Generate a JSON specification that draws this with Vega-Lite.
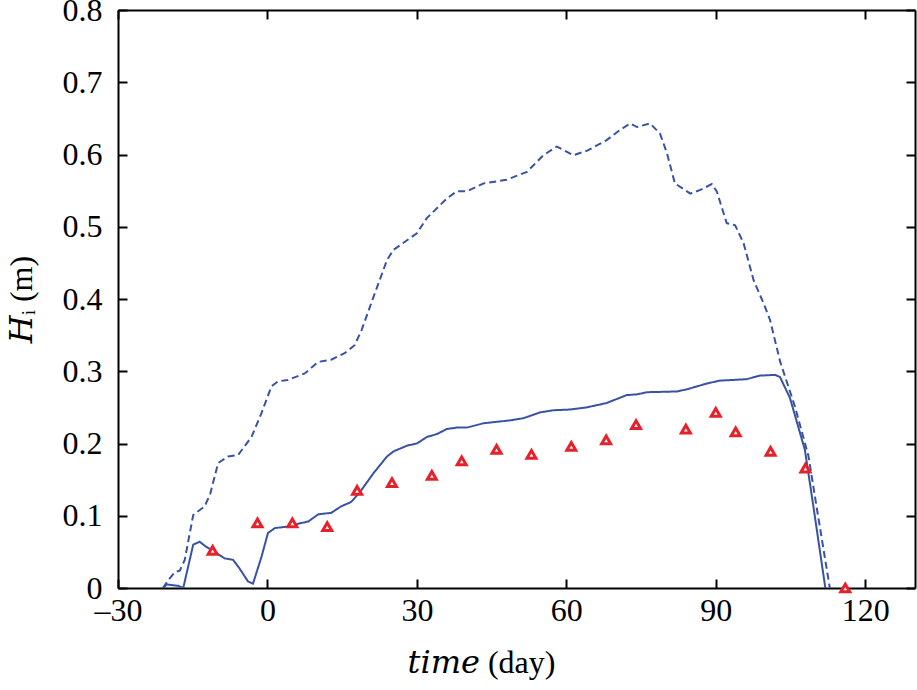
{
  "$schema": "https://vega.github.io/schema/vega-lite/v6.json",
  "width": 797,
  "height": 578,
  "autosize": "none",
  "padding": {"left": 118, "top": 10, "right": 2, "bottom": 102},
  "background": "white",
  "config": {
    "view": {"stroke": null},
    "font": "Liberation Serif",
    "axis": {
      "domainColor": "black",
      "domainWidth": 2,
      "tickColor": "black",
      "tickWidth": 2,
      "tickSize": -9,
      "grid": false,
      "labelFont": "Liberation Serif",
      "labelFontSize": 32,
      "labelColor": "black",
      "titleFont": "'Liberation Serif', 'DejaVu Serif', serif",
      "titleFontSize": 32,
      "titleFontWeight": "normal",
      "titleColor": "black",
      "labelFlush": false,
      "labelOverlap": false
    }
  },
  "datasets": {
    "model": [
      {"run": "dashed", "t": -21.0, "h": 0.0},
      {"run": "dashed", "t": -19.9, "h": 0.011},
      {"run": "dashed", "t": -18.6, "h": 0.022},
      {"run": "dashed", "t": -17.6, "h": 0.024},
      {"run": "dashed", "t": -16.6, "h": 0.039},
      {"run": "dashed", "t": -14.9, "h": 0.101},
      {"run": "dashed", "t": -12.6, "h": 0.113},
      {"run": "dashed", "t": -11.5, "h": 0.130},
      {"run": "dashed", "t": -9.9, "h": 0.173},
      {"run": "dashed", "t": -7.9, "h": 0.182},
      {"run": "dashed", "t": -5.9, "h": 0.184},
      {"run": "dashed", "t": -3.2, "h": 0.209},
      {"run": "dashed", "t": -1.2, "h": 0.242},
      {"run": "dashed", "t": 0.8, "h": 0.279},
      {"run": "dashed", "t": 2.1, "h": 0.286},
      {"run": "dashed", "t": 4.1, "h": 0.288},
      {"run": "dashed", "t": 7.5, "h": 0.297},
      {"run": "dashed", "t": 10.2, "h": 0.313},
      {"run": "dashed", "t": 12.8, "h": 0.316},
      {"run": "dashed", "t": 15.5, "h": 0.325},
      {"run": "dashed", "t": 17.5, "h": 0.336},
      {"run": "dashed", "t": 18.9, "h": 0.357},
      {"run": "dashed", "t": 21.3, "h": 0.403},
      {"run": "dashed", "t": 24.0, "h": 0.454},
      {"run": "dashed", "t": 25.3, "h": 0.468},
      {"run": "dashed", "t": 30.0, "h": 0.491},
      {"run": "dashed", "t": 32.0, "h": 0.512},
      {"run": "dashed", "t": 36.0, "h": 0.539},
      {"run": "dashed", "t": 38.0, "h": 0.549},
      {"run": "dashed", "t": 40.0, "h": 0.549},
      {"run": "dashed", "t": 43.4, "h": 0.560},
      {"run": "dashed", "t": 48.0, "h": 0.565},
      {"run": "dashed", "t": 52.1, "h": 0.576},
      {"run": "dashed", "t": 55.4, "h": 0.599},
      {"run": "dashed", "t": 58.1, "h": 0.611},
      {"run": "dashed", "t": 61.4, "h": 0.599},
      {"run": "dashed", "t": 64.1, "h": 0.605},
      {"run": "dashed", "t": 68.1, "h": 0.620},
      {"run": "dashed", "t": 70.8, "h": 0.634},
      {"run": "dashed", "t": 72.8, "h": 0.643},
      {"run": "dashed", "t": 74.2, "h": 0.638},
      {"run": "dashed", "t": 76.8, "h": 0.643},
      {"run": "dashed", "t": 78.8, "h": 0.629},
      {"run": "dashed", "t": 80.2, "h": 0.602},
      {"run": "dashed", "t": 81.8, "h": 0.560},
      {"run": "dashed", "t": 84.9, "h": 0.546},
      {"run": "dashed", "t": 86.9, "h": 0.551},
      {"run": "dashed", "t": 89.2, "h": 0.559},
      {"run": "dashed", "t": 90.2, "h": 0.549},
      {"run": "dashed", "t": 92.2, "h": 0.505},
      {"run": "dashed", "t": 93.9, "h": 0.502},
      {"run": "dashed", "t": 95.6, "h": 0.477},
      {"run": "dashed", "t": 97.6, "h": 0.426},
      {"run": "dashed", "t": 99.6, "h": 0.394},
      {"run": "dashed", "t": 100.9, "h": 0.371},
      {"run": "dashed", "t": 102.9, "h": 0.314},
      {"run": "dashed", "t": 105.9, "h": 0.251},
      {"run": "dashed", "t": 108.6, "h": 0.183},
      {"run": "dashed", "t": 110.3, "h": 0.110},
      {"run": "dashed", "t": 112.9, "h": 0.0},
      {"run": "solid", "t": -20.9, "h": 0.0},
      {"run": "solid", "t": -20.2, "h": 0.005},
      {"run": "solid", "t": -17.9, "h": 0.003},
      {"run": "solid", "t": -16.9, "h": 0.0},
      {"run": "solid", "t": -14.9, "h": 0.060},
      {"run": "solid", "t": -13.6, "h": 0.064},
      {"run": "solid", "t": -12.3, "h": 0.057},
      {"run": "solid", "t": -10.6, "h": 0.050},
      {"run": "solid", "t": -8.6, "h": 0.041},
      {"run": "solid", "t": -6.9, "h": 0.039},
      {"run": "solid", "t": -5.6, "h": 0.027},
      {"run": "solid", "t": -3.9, "h": 0.009},
      {"run": "solid", "t": -2.9, "h": 0.006},
      {"run": "solid", "t": -1.2, "h": 0.043},
      {"run": "solid", "t": 0.1, "h": 0.076},
      {"run": "solid", "t": 1.5, "h": 0.083},
      {"run": "solid", "t": 4.1, "h": 0.085},
      {"run": "solid", "t": 6.8, "h": 0.090},
      {"run": "solid", "t": 8.2, "h": 0.092},
      {"run": "solid", "t": 10.2, "h": 0.102},
      {"run": "solid", "t": 12.8, "h": 0.104},
      {"run": "solid", "t": 14.8, "h": 0.113},
      {"run": "solid", "t": 16.8, "h": 0.119},
      {"run": "solid", "t": 18.6, "h": 0.133},
      {"run": "solid", "t": 21.3, "h": 0.159},
      {"run": "solid", "t": 24.0, "h": 0.182},
      {"run": "solid", "t": 25.3, "h": 0.189},
      {"run": "solid", "t": 28.0, "h": 0.197},
      {"run": "solid", "t": 30.0, "h": 0.200},
      {"run": "solid", "t": 32.0, "h": 0.209},
      {"run": "solid", "t": 34.0, "h": 0.213},
      {"run": "solid", "t": 36.0, "h": 0.220},
      {"run": "solid", "t": 38.0, "h": 0.222},
      {"run": "solid", "t": 40.0, "h": 0.222},
      {"run": "solid", "t": 43.4, "h": 0.228},
      {"run": "solid", "t": 46.0, "h": 0.230},
      {"run": "solid", "t": 48.7, "h": 0.232},
      {"run": "solid", "t": 51.4, "h": 0.235},
      {"run": "solid", "t": 54.7, "h": 0.243},
      {"run": "solid", "t": 57.4, "h": 0.246},
      {"run": "solid", "t": 60.8, "h": 0.247},
      {"run": "solid", "t": 64.1, "h": 0.250},
      {"run": "solid", "t": 68.1, "h": 0.256},
      {"run": "solid", "t": 72.1, "h": 0.267},
      {"run": "solid", "t": 74.2, "h": 0.268},
      {"run": "solid", "t": 76.2, "h": 0.271},
      {"run": "solid", "t": 82.2, "h": 0.272},
      {"run": "solid", "t": 84.2, "h": 0.275},
      {"run": "solid", "t": 88.2, "h": 0.283},
      {"run": "solid", "t": 90.8, "h": 0.287},
      {"run": "solid", "t": 96.2, "h": 0.289},
      {"run": "solid", "t": 98.9, "h": 0.294},
      {"run": "solid", "t": 101.9, "h": 0.295},
      {"run": "solid", "t": 102.9, "h": 0.292},
      {"run": "solid", "t": 104.9, "h": 0.263},
      {"run": "solid", "t": 107.9, "h": 0.191},
      {"run": "solid", "t": 109.6, "h": 0.113},
      {"run": "solid", "t": 112.0, "h": 0.0}
    ],
    "obs": [
      {"t": -11, "h": 0.052},
      {"t": -2, "h": 0.090},
      {"t": 5, "h": 0.090},
      {"t": 12, "h": 0.085},
      {"t": 18, "h": 0.135},
      {"t": 25, "h": 0.146},
      {"t": 33, "h": 0.156},
      {"t": 39, "h": 0.176},
      {"t": 46, "h": 0.192},
      {"t": 53, "h": 0.185},
      {"t": 61, "h": 0.196},
      {"t": 68, "h": 0.205},
      {"t": 74, "h": 0.226},
      {"t": 84, "h": 0.220},
      {"t": 90, "h": 0.243},
      {"t": 94, "h": 0.216},
      {"t": 101, "h": 0.189},
      {"t": 108, "h": 0.166},
      {"t": 116, "h": 0.0}
    ]
  },
  "resolve": {"axis": {"x": "independent", "y": "independent"}},
  "layer": [
    {
      "data": {"name": "model"},
      "mark": {"type": "line", "color": "#3953a4", "strokeWidth": 2, "clip": true},
      "encoding": {
        "x": {
          "field": "t", "type": "quantitative",
          "scale": {"domain": [-30, 130], "nice": false, "zero": false},
          "axis": {
            "orient": "bottom",
            "values": [-30, 0, 30, 60, 90, 120],
            "labelExpr": "replace(datum.label, '−', '–')",
            "labelPadding": 16,
            "title": "𝑡𝑖𝑚𝑒 (day)",
            "titleX": 363,
            "titlePadding": 21
          }
        },
        "y": {
          "field": "h", "type": "quantitative",
          "scale": {"domain": [0, 0.8], "nice": false},
          "axis": {
            "orient": "left",
            "values": [0, 0.1, 0.2, 0.3, 0.4, 0.5, 0.6, 0.7, 0.8],
            "labelExpr": "datum.value == 0 ? '0' : format(datum.value, '.1f')",
            "labelPadding": 25,
            "title": "𝐻ᵢ (m)",
            "titlePadding": 24
          }
        },
        "detail": {"field": "run", "type": "nominal"},
        "strokeDash": {
          "field": "run", "type": "nominal",
          "scale": {"domain": ["solid", "dashed"], "range": [[1, 0], [7, 4]]},
          "legend": null
        }
      }
    },
    {
      "data": {"name": "obs"},
      "mark": {"type": "point", "shape": "triangle-up", "filled": false, "fill": "white", "fillOpacity": 1, "stroke": "#e8202a", "strokeWidth": 3, "size": 80, "opacity": 1},
      "encoding": {
        "x": {
          "field": "t", "type": "quantitative",
          "scale": {"domain": [-30, 130], "nice": false, "zero": false},
          "axis": {"orient": "top", "values": [-30, 0, 30, 60, 90, 120], "labels": false, "title": null}
        },
        "y": {
          "field": "h", "type": "quantitative",
          "scale": {"domain": [0, 0.8], "nice": false},
          "axis": {"orient": "right", "values": [0, 0.1, 0.2, 0.3, 0.4, 0.5, 0.6, 0.7, 0.8], "labels": false, "title": null}
        }
      }
    }
  ]
}
